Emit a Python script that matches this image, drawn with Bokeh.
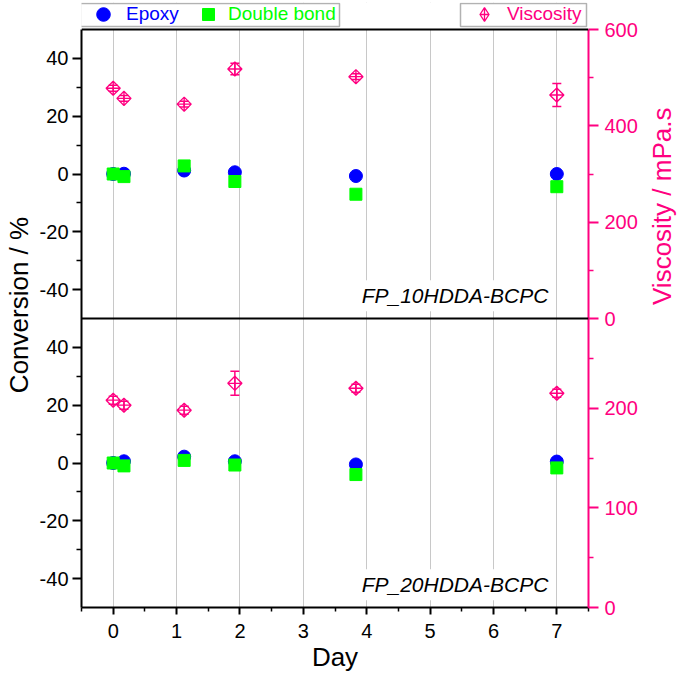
import math
from bokeh.plotting import figure
from bokeh.models import (Range1d, LinearAxis, FixedTicker, CustomJSTickFormatter, ColumnDataSource,
                          Whisker, TeeHead, Legend, LegendItem, Label, BoxAnnotation, Span)
from bokeh.embed import file_html
from bokeh.resources import INLINE

# ---------------- data ----------------
days = [0, 0.17, 1.12, 1.92, 3.83, 7]

# FP_10HDDA-BCPC (upper panel)
epoxy_10 = [0.0, 0.1, 1.2, 0.6, -0.7, 0.0]
dbond_10 = [0.0, -0.9, 2.8, -2.6, -7.0, -4.4]
visc_10 = [478, 457, 445, 518, 502, 464]
visc_10_err = [6, 6, 6, 12, 6, 24]

# FP_20HDDA-BCPC (lower panel)
epoxy_20 = [0.0, 0.6, 2.2, 0.6, -0.5, 0.5]
dbond_20 = [0.0, -1.0, 0.9, -0.7, -4.0, -1.7]
visc_20 = [208, 203, 198, 225, 220, 215]
visc_20_err = [4, 4, 4, 12, 4, 4]

panel_names = ["FP_10HDDA-BCPC", "FP_20HDDA-BCPC"]

conv_ticks = [-40, -20, 0, 20, 40]
conv_minor = [-30, -10, 10, 30]
visc_top_ticks = [0, 200, 400, 600]
visc_top_minor = [100, 300, 500]
visc_bot_ticks = [0, 100, 200]
visc_bot_minor = [50, 150, 250]
day_ticks = [0, 1, 2, 3, 4, 5, 6, 7]
day_minor = [-0.5, 0.5, 1.5, 2.5, 3.5, 4.5, 5.5, 6.5, 7.5]

CONV_LO, CONV_HI = -50, 50
VISC_TOP_MAX = 600
VISC_BOT_MAX = 290

# ---------------- layout / style ----------------
PINK = "#FF0080"
BLUE = "#0000FF"
GREEN = "#00FF00"
FONT = "Liberation Sans"
FW = 507          # frame width
PH = 289          # height of one panel in px
STRIP = 27        # legend strip above the panels (inside the frame)
FH = STRIP + 2 * PH

span = CONV_HI - CONV_LO
ext = STRIP / PH  # strip height as a fraction of one panel

p = figure(frame_width=FW, frame_height=FH,
           x_range=Range1d(-0.5, 7.5),
           y_range=Range1d(CONV_LO - span, CONV_HI + span * ext),
           output_backend="svg", toolbar_location=None,
           min_border_left=74, min_border_right=96, min_border_top=2, min_border_bottom=66)
p.extra_y_ranges = {
    "conv_bot": Range1d(CONV_LO, CONV_HI + span + span * ext),
    "visc_top": Range1d(-VISC_TOP_MAX, VISC_TOP_MAX + VISC_TOP_MAX * ext),
    "visc_bot": Range1d(0, 2 * VISC_BOT_MAX + VISC_BOT_MAX * ext),
}
p.outline_line_color = None
p.background_fill_color = "white"
p.border_fill_color = "white"

# grid
p.ygrid.visible = False
p.xgrid.grid_line_color = "#c8c8c8"
p.xgrid.grid_line_width = 1


def style_axis(ax, color):
    ax.axis_line_color = color
    ax.axis_line_width = 2
    ax.major_tick_line_color = color
    ax.major_tick_line_width = 2
    ax.minor_tick_line_color = color
    ax.minor_tick_line_width = 1.5
    ax.major_tick_in = 0
    ax.minor_tick_in = 0
    ax.major_label_text_font = FONT
    ax.major_label_text_font_size = "20px"
    ax.major_label_text_color = color
    ax.axis_label_text_font = FONT
    ax.axis_label_text_font_size = "26px"
    ax.axis_label_text_font_style = "normal"
    ax.axis_label_text_color = color


# bottom axis
xa = p.xaxis[0]
style_axis(xa, "black")
xa.ticker = FixedTicker(ticks=day_ticks, minor_ticks=day_minor)
xa.axis_label = "Day"
xa.major_tick_out = 7
xa.minor_tick_out = 4
xa.major_label_standoff = 9
xa.axis_label_standoff = 1

# left axis (both panels)
ya = p.yaxis[0]
style_axis(ya, "black")
ya.bounds = (CONV_LO - span, CONV_HI)
ya.ticker = FixedTicker(ticks=conv_ticks + [t - span for t in conv_ticks],
                        minor_ticks=conv_minor + [t - span for t in conv_minor])
ya.formatter = CustomJSTickFormatter(
    code=f"return String(Math.round(tick < {CONV_LO} ? tick + {span} : tick));")
ya.axis_label = "Conversion / %"
ya.major_tick_out = 9
ya.minor_tick_out = 5
ya.major_label_standoff = 4
ya.axis_label_standoff = 3

# right axis (viscosity, both panels)
scale_bot = 2 * VISC_TOP_MAX / (2 * VISC_BOT_MAX)
ra = LinearAxis(y_range_name="visc_top")
style_axis(ra, PINK)
ra.bounds = (-VISC_TOP_MAX, VISC_TOP_MAX)
ra.ticker = FixedTicker(
    ticks=visc_top_ticks + [-VISC_TOP_MAX + v * scale_bot for v in visc_bot_ticks],
    minor_ticks=visc_top_minor + [-VISC_TOP_MAX + v * scale_bot for v in visc_bot_minor])
ra.formatter = CustomJSTickFormatter(
    code=f"return String(Math.round(tick < 0 ? (tick + {VISC_TOP_MAX}) / {scale_bot} : tick));")
ra.axis_label = "Viscosity / mPa.s"
ra.major_tick_out = 10
ra.minor_tick_out = 5
ra.major_label_standoff = 6
ra.axis_label_standoff = 21
ra.axis_label_orientation = math.pi / 2
p.add_layout(ra, "right")

# ---------------- data renderers ----------------
panels = [
    (epoxy_10, dbond_10, visc_10, visc_10_err, "default", "visc_top"),
    (epoxy_20, dbond_20, visc_20, visc_20_err, "conv_bot", "visc_bot"),
]
legend_renderers = {}
for i, (ep, db, vi, ve, crange, vrange) in enumerate(panels):
    src = ColumnDataSource(dict(
        day=days, epoxy=ep, dbond=db, visc=vi,
        vlo=[v - e for v, e in zip(vi, ve)], vhi=[v + e for v, e in zip(vi, ve)]))
    p.add_layout(Whisker(source=src, base="day", lower="vlo", upper="vhi", dimension="height",
                         y_range_name=vrange, line_color=PINK, line_width=1.5,
                         upper_head=TeeHead(size=9, line_color=PINK, line_width=1.5),
                         lower_head=TeeHead(size=9, line_color=PINK, line_width=1.5)))
    rv = p.scatter("day", "visc", source=src, y_range_name=vrange, marker="square_x",
                   angle=math.pi / 4, size=10, fill_color=None, line_color=PINK, line_width=1.3)
    kw = {} if crange == "default" else {"y_range_name": crange}
    re_ = p.scatter("day", "epoxy", source=src, marker="circle", size=13,
                    fill_color=BLUE, line_color=BLUE, **kw)
    rd = p.scatter("day", "dbond", source=src, marker="square", size=12,
                   fill_color=GREEN, line_color=GREEN, **kw)
    if i == 0:
        legend_renderers = {"ep": re_, "db": rd}
        # legend-only symbol for viscosity (the legend ignores marker angle); hidden in the plot
        legend_renderers["vi"] = p.scatter("day", "visc", source=src, y_range_name=vrange,
                                           marker="diamond_cross", size=10, fill_color=None,
                                           line_color=PINK, line_width=1.3, visible=False)
    p.add_layout(Label(x=6.93, y=CONV_LO + 2.5, text=panel_names[i], text_align="right",
                       text_baseline="bottom", text_font=FONT, text_font_size="21px",
                       text_font_style="italic", text_color="black",
                       background_fill_color="white", padding=4, **kw))

# white strip above the panels (hides grid lines there), top border and separator
p.add_layout(BoxAnnotation(bottom=CONV_HI, fill_color="white", fill_alpha=1, line_alpha=0))
p.add_layout(Span(location=CONV_HI, dimension="width", line_color="black", line_width=2))
p.add_layout(Span(location=CONV_LO, dimension="width", line_color="black", line_width=2))

# ---------------- legends (in the strip above the panels) ----------------
GC = FH - 12   # vertical centre of legend boxes, px from frame bottom
common = dict(orientation="horizontal", label_text_font=FONT, label_text_font_size="19px",
              background_fill_alpha=0, border_line_color=None, margin=0, spacing=0, padding=0,
              inactive_fill_alpha=0)
legA = Legend(items=[LegendItem(label="Epoxy", renderers=[legend_renderers["ep"]])],
              location=(5, GC - 17), glyph_width=34, glyph_height=34,
              label_standoff=6, label_text_color=BLUE, **common)
legB = Legend(items=[LegendItem(label="Double bond", renderers=[legend_renderers["db"]])],
              location=(112, GC - 15), glyph_width=30, glyph_height=30,
              label_standoff=5, label_text_color=GREEN, **common)
legC = Legend(items=[LegendItem(label="Viscosity", renderers=[legend_renderers["vi"]])],
              location=(386, GC - 17), glyph_width=34, glyph_height=34,
              label_standoff=6, label_text_color=PINK, **common)
for (l, r) in [(-1, 258), (379, 505)]:
    p.add_layout(BoxAnnotation(left=l, right=r, bottom=GC - 12, top=GC + 11,
                               left_units="screen", right_units="screen",
                               top_units="screen", bottom_units="screen",
                               fill_color="white", fill_alpha=1, line_color="black",
                               line_width=1.5))
for lg in (legA, legB, legC):
    p.add_layout(lg, "center")

open("out.html", "w").write(file_html(p, INLINE))
